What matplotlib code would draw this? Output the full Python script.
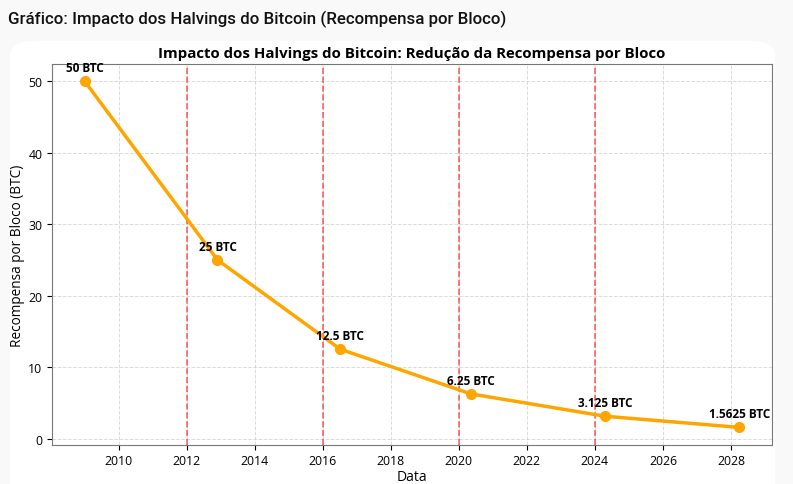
import datetime as dt
import matplotlib.pyplot as plt
import matplotlib.dates as mdates
from matplotlib.patches import FancyBboxPatch

# halving data
datas = [dt.date(2009, 1, 3), dt.date(2012, 11, 28), dt.date(2016, 7, 9),
         dt.date(2020, 5, 11), dt.date(2024, 4, 20), dt.date(2028, 3, 30)]
recompensas = [50, 25, 12.5, 6.25, 3.125, 1.5625]
rotulos = ['50 BTC', '25 BTC', '12.5 BTC', '6.25 BTC', '3.125 BTC', '1.5625 BTC']
linhas_halving = [dt.date(2012, 1, 1), dt.date(2016, 1, 1),
                  dt.date(2020, 1, 1), dt.date(2024, 1, 1)]

plt.rcParams['font.family'] = ['Open Sans', 'DejaVu Sans']

W, H = 793, 485
fig = plt.figure(figsize=(W / 100, H / 100), dpi=100)
fig.patch.set_facecolor('#f9f9f9')

# card background (white rounded box behind the chart)
card = FancyBboxPatch((10 / W, -0.1), 765 / W, 0.1 + (H - 42) / H,
                      boxstyle='round,pad=0,rounding_size=0.03',
                      transform=fig.transFigure, facecolor='white',
                      edgecolor='none', zorder=-10)
fig.patches.append(card)

fig.text(8 / W, 1 - 19 / H, 'Gráfico: Impacto dos Halvings do Bitcoin (Recompensa por Bloco)',
         family=['Roboto', 'DejaVu Sans'], fontsize=12.2, fontweight='medium',
         va='center', ha='left', color='#111111')

ax = fig.add_axes([52 / W, (H - 445.7) / H, 720 / W, 380.7 / H])
ax.set_facecolor('white')

ax.plot(datas, recompensas, color='orange', linewidth=2.5, marker='o',
        markersize=7, zorder=3)

for d in linhas_halving:
    ax.axvline(d, color='red', linestyle='--', alpha=0.6, linewidth=1.2, zorder=2.5)

for d, r, t in zip(datas, recompensas, rotulos):
    ax.annotate(t, (d, r), xytext=(0, 5), textcoords='offset points',
                ha='center', va='bottom', fontsize=8.5, fontweight='bold')

ax.set_title('Impacto dos Halvings do Bitcoin: Redução da Recompensa por Bloco',
             fontsize=10.8, fontweight='bold', pad=5)
ax.set_xlabel('Data', fontsize=10, labelpad=1)
ax.set_ylabel('Recompensa por Bloco (BTC)', fontsize=9.8, labelpad=2)
ax.grid(True, linestyle='--', alpha=0.7, color='#cccccc', linewidth=0.7)
ax.xaxis.set_major_locator(mdates.YearLocator(2))
ax.xaxis.set_major_formatter(mdates.DateFormatter('%Y'))
ax.tick_params(labelsize=8.8)
for s in ax.spines.values():
    s.set_color('#777777')

fig.savefig('out.png', dpi=100, facecolor=fig.get_facecolor())
